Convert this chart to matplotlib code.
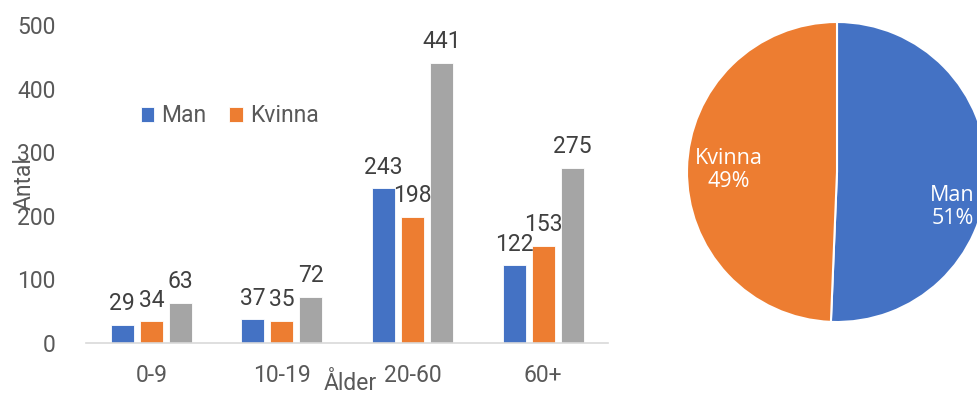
import matplotlib.pyplot as plt
import numpy as np

plt.rcParams['font.family'] = ['Roboto', 'DejaVu Sans']

# data
groups = ['0-9', '10-19', '20-60', '60+']
man = [29, 37, 243, 122]
kvinna = [34, 35, 198, 153]
totalt = [63, 72, 441, 275]
pie_labels = ['Man', 'Kvinna']
pie_values = [sum(man), sum(kvinna)]

blue = '#4472C4'
orange = '#ED7D31'
gray = '#A5A5A5'
txt = '#595959'
fs = 16.5

fig = plt.figure(figsize=(9.78, 4.0), dpi=100)

# bar chart
ax = fig.add_axes([0.088, 0.1425, 0.534, 0.795])
x = np.arange(len(groups))
w = 0.176
step = 0.222
b1 = ax.bar(x - step, man, w, color=blue, edgecolor='white', linewidth=0.6, label='Man')
b2 = ax.bar(x, kvinna, w, color=orange, edgecolor='white', linewidth=0.6, label='Kvinna')
b3 = ax.bar(x + step, totalt, w, color=gray, edgecolor='white', linewidth=0.6)
for b in (b1, b2, b3):
    ax.bar_label(b, padding=7, fontsize=fs, color='#404040')

ax.set_xlim(-0.5, len(groups) - 0.5)
ax.set_ylim(0, 500)
ax.set_yticks([0, 100, 200, 300, 400, 500])
ax.set_xticks(x)
ax.set_xticklabels(groups)
ax.tick_params(axis='both', length=0, labelsize=fs, labelcolor=txt)
ax.tick_params(axis='y', pad=22)
ax.tick_params(axis='x', pad=15)
for s in ['top', 'right', 'left']:
    ax.spines[s].set_visible(False)
ax.spines['bottom'].set_color('#D9D9D9')
ax.spines['bottom'].set_linewidth(1.2)

ax.set_ylabel('Antal', fontsize=fs, color=txt)
ax.yaxis.set_label_coords(-0.097, 0.5)
ax.set_xlabel('Ålder', fontsize=fs, color=txt)
ax.xaxis.set_label_coords(0.506, -0.09)

ax.legend(loc='center', bbox_to_anchor=(0.275, 0.714), ncol=2, frameon=False,
          fontsize=fs, labelcolor=txt, handlelength=0.6, handleheight=0.6,
          handletextpad=0.3, columnspacing=1.0)

# pie chart
pax = fig.add_axes([687 / 978, 78 / 400, 300 / 978, 300 / 400])
wedges, texts = pax.pie(pie_values, colors=[blue, orange], startangle=90, counterclock=False,
                        wedgeprops=dict(edgecolor='white', linewidth=1.5),
                        labels=[f'{l}\n{v / sum(pie_values):.0%}' for l, v in zip(pie_labels, pie_values)],
                        labeldistance=0.72,
                        textprops=dict(color='white', fontsize=15.5, family=['Open Sans', 'DejaVu Sans'],
                                       ha='center', va='center', linespacing=1.1))
mx, my = texts[0].get_position()
texts[0].set_position((mx + 0.05, my - 0.22))
pax.set_xlim(-1, 1)
pax.set_ylim(-1, 1)
pax.set_aspect('equal')

fig.savefig('out.png', dpi=100)
